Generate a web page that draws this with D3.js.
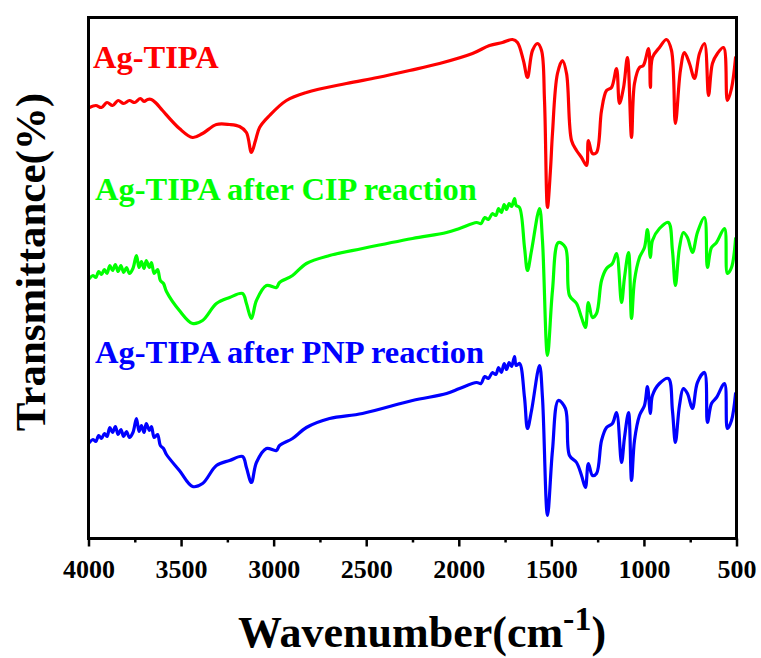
<!DOCTYPE html>
<html>
<head>
<meta charset="utf-8">
<script src="https://cdn.jsdelivr.net/npm/d3@7/dist/d3.min.js"></script>
<style>
  html, body { margin: 0; padding: 0; background: #fff; }
  svg { display: block; }
  text { font-family: "Liberation Serif", "Times New Roman", serif; font-weight: bold; }
</style>
</head>
<body>
<svg id="chart" width="761" height="658"></svg>
<script>
// ---------------- DATA ----------------
const seriesNames = ["Ag-TIPA", "Ag-TIPA after CIP reaction", "Ag-TIPA after PNP reaction"];
const seriesColors = ["#ff0000", "#00ff00", "#0000ff"];

// Ag-TIPA (red)
const wnRed = [3995,3960,3930,3900,3870,3840,3810,3779,3750,3720,3700,3681,3660,3633,3600,3509,3438,3384,3309,3238,3184,3147,3120,3098,3076,3022,2931,2823,2607,2439,2266,2104,1926,1834,1764,1710,1683,1651,1629,1602,1575,1553,1537,1521,1505,1494,1467,1440,1418,1391,1364,1337,1310,1300,1278,1256,1229,1202,1175,1148,1132,1110,1089,1067,1051,1024,1003,975,965,954,916,878,851,830,803,781,754,727,700,673,651,630,603,570,549,527,505];
const tRed = [86.2,86.6,86.2,87.2,86.6,87.6,87.0,87.6,87.2,88.0,87.4,87.8,87.8,87.0,85.6,82.0,80.2,81.0,82.8,82.8,82.4,81.2,77.2,79.6,82.2,84.6,87.6,89.2,91.0,92.2,93.6,95.0,97.0,98.6,99.2,99.8,99.2,95.6,92.2,97.6,99.0,97.6,87.6,66.2,73.6,81.0,93.0,95.6,93.0,79.6,77.6,76.2,74.6,79.6,77.0,77.2,85.6,89.6,90.2,94.0,87.0,90.2,96.2,80.2,91.0,94.2,94.6,98.0,90.2,96.2,98.2,99.8,97.6,83.0,93.6,97.2,95.0,92.0,97.0,99.0,88.6,95.0,97.0,98.2,87.6,90.0,96.2];

// Ag-TIPA after CIP reaction (green) and after PNP reaction (blue): shared wavenumbers
const wnGB = [3995,3975,3960,3945,3930,3914,3900,3885,3870,3855,3840,3825,3810,3795,3779,3760,3741,3727,3714,3700,3688,3671,3660,3645,3627,3612,3595,3579,
  3509,3438,3384,3309,3238,3168,3147,3120,3093,3039,2985,2968,2898,2823,2698,2520,2250,2066,1996,
  1904,1880,1860,1840,1818,1800,1785,1770,1755,1742,1728,1715,1699,1690,1672,
  1645,1629,1607,1564,1548,1521,1494,1462,1424,1402,1364,1337,1316,1300,1278,1256,1229,1202,1170,1148,1121,1105,1083,1067,1051,1024,997,981,965,954,916,868,846,830,808,787,765,738,711,673,657,635,608,565,549,527,505];
const tGreen = [52.0,52.6,52.2,53.4,52.8,53.8,53.0,54.6,53.6,54.8,53.4,54.6,53.2,54.2,53.0,54.0,56.6,54.2,55.4,54.0,55.6,54.2,55.2,53.0,53.8,51.6,51.0,49.4,
  45.6,43.0,43.6,47.0,48.2,49.0,47.0,44.0,47.6,50.6,50.2,51.2,52.6,55.0,56.6,58.0,60.0,61.2,62.0,
  63.2,63.0,64.2,63.8,65.0,64.6,66.0,65.2,66.8,65.8,67.0,66.4,68.0,66.6,66.2,
  58.2,53.6,57.6,66.0,59.6,36.6,49.6,59.2,58.2,48.6,47.0,44.2,42.2,47.2,44.2,45.0,51.6,54.0,55.0,57.0,47.2,52.2,57.2,44.0,51.6,56.2,58.2,61.8,56.2,59.6,62.0,63.2,57.6,50.6,58.2,61.2,60.2,57.2,61.2,64.2,54.2,58.2,59.2,62.0,53.0,54.2,60.0];
const tBlue = [19.2,19.8,19.4,20.6,20.0,21.0,20.4,22.2,21.2,22.4,20.8,21.8,20.4,21.4,20.2,21.2,24.0,21.4,22.6,21.2,23.0,21.6,22.4,20.2,20.8,18.6,18.0,16.8,
  13.6,10.4,11.0,14.6,15.6,16.4,14.2,11.2,15.2,18.0,17.6,18.6,20.0,22.2,24.0,25.0,27.6,29.0,30.0,
  31.2,31.0,32.4,32.0,33.2,32.8,34.2,33.2,35.0,33.8,35.2,34.4,36.4,34.6,35.0,
  28.2,22.0,25.6,34.6,28.2,4.6,17.6,27.6,26.0,16.6,15.2,12.6,10.2,15.0,12.6,13.0,19.6,22.2,23.0,25.2,15.2,20.2,25.2,11.6,19.6,24.6,26.6,30.4,25.0,28.6,31.0,32.0,25.6,19.2,26.6,30.0,29.0,26.0,31.2,33.2,23.2,27.0,28.2,31.0,22.0,23.6,29.0];

const xMajorTicks = [4000,3500,3000,2500,2000,1500,1000,500];
const xMinorTicks = [3750,3250,2750,2250,1750,1250,750];
const xLabel = "Wavenumber(cm";
const xLabelSup = "-1";
const yLabel = "Transmittance(%)";

// ---------------- CHART ----------------
const svg = d3.select("#chart");
const plotL = 88.5, plotR = 736.5, plotT = 17.5, plotB = 538.5;

const x = d3.scaleLinear().domain([4000, 500]).range([plotL, plotR]);
const y = d3.scaleLinear().domain([0, 104.2]).range([plotB, plotT]);

const series = [
  { name: seriesNames[0], color: seriesColors[0], pts: wnRed.map((w, i) => [w, tRed[i]]) },
  { name: seriesNames[1], color: seriesColors[1], pts: wnGB.map((w, i) => [w, tGreen[i]]) },
  { name: seriesNames[2], color: seriesColors[2], pts: wnGB.map((w, i) => [w, tBlue[i]]) }
];

const line = d3.line()
  .x(d => x(d[0]))
  .y(d => y(d[1]))
  .curve(d3.curveCatmullRom.alpha(0.5));

svg.append("defs").append("clipPath").attr("id", "clip")
  .append("rect").attr("x", plotL).attr("y", plotT).attr("width", plotR - plotL).attr("height", plotB - plotT);

const g = svg.append("g").attr("clip-path", "url(#clip)");
series.forEach(s => {
  g.append("path")
    .attr("d", line(s.pts))
    .attr("fill", "none")
    .attr("stroke", s.color)
    .attr("stroke-width", 3.2)
    .attr("stroke-linejoin", "round")
    .attr("stroke-linecap", "round");
});

// Minor ticks
const minorAxis = d3.axisBottom(x).tickValues(xMinorTicks).tickSize(4).tickFormat("");
svg.append("g").attr("transform", `translate(0,${plotB})`).call(minorAxis)
  .call(a => a.select(".domain").remove())
  .call(a => a.selectAll("line").attr("stroke", "#000").attr("stroke-width", 2.5));

// Major ticks
const majorAxis = d3.axisBottom(x).tickValues(xMajorTicks).tickSize(8).tickPadding(13).tickFormat(d3.format("d"));
svg.append("g").attr("transform", `translate(0,${plotB})`).call(majorAxis)
  .call(a => a.select(".domain").remove())
  .call(a => a.selectAll("line").attr("stroke", "#000").attr("stroke-width", 2.5))
  .call(a => a.selectAll("text")
    .attr("fill", "#000")
    .style("font-family", '"Liberation Serif", serif')
    .style("font-weight", "bold")
    .style("font-size", "26px"));

// Frame
svg.append("rect")
  .attr("x", plotL).attr("y", plotT)
  .attr("width", plotR - plotL).attr("height", plotB - plotT)
  .attr("fill", "none").attr("stroke", "#000").attr("stroke-width", 3);

// Series labels
const labelPos = [[93, 68], [95, 200], [95, 363]];
series.forEach((s, i) => {
  svg.append("text")
    .attr("x", labelPos[i][0]).attr("y", labelPos[i][1])
    .attr("fill", s.color)
    .style("font-size", "32.5px")
    .text(s.name);
});

// Axis titles
const xt = svg.append("text")
  .attr("x", 238).attr("y", 647)
  .attr("fill", "#000")
  .style("font-size", "44px");
xt.append("tspan").text(xLabel);
xt.append("tspan").attr("dy", -17).style("font-size", "34px").text(xLabelSup);
xt.append("tspan").attr("dy", 17).text(")");

svg.append("text")
  .attr("transform", "translate(45,262) rotate(-90)")
  .attr("text-anchor", "middle")
  .attr("fill", "#000")
  .style("font-size", "43px")
  .text(yLabel);
</script>
</body>
</html>
